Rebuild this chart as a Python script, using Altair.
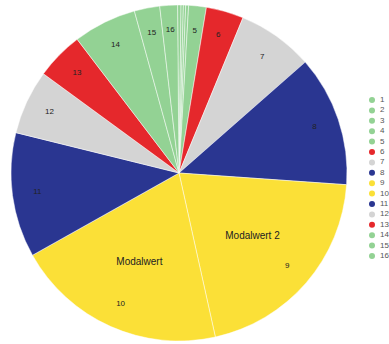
import math
import altair as alt
import pandas as pd

categories = [str(i) for i in range(1, 17)]
# slice sizes in degrees
values = [1.2, 0.8, 0.8, 1.0, 6.1, 13.0, 26.3, 45.3, 73.5, 73.2, 43.2, 22.3, 16.5, 21.9, 8.8, 6.1]
slice_labels = ["", "", "", "", "5", "6", "7", "8", "9", "10", "11", "12", "13", "14", "15", "16"]
annotations = ["", "", "", "", "", "", "", "", "Modalwert 2", "Modalwert", "", "", "", "", "", ""]
colors = ["#93d294", "#93d294", "#93d294", "#93d294", "#93d294", "#e5282c", "#d4d4d4", "#2a3691",
          "#fbe037", "#fbe037", "#2a3691", "#d4d4d4", "#e5282c", "#93d294", "#93d294", "#93d294"]

df = pd.DataFrame({
    "cat": categories,
    "val": values,
    "idx": list(range(len(categories))),
    "lab": slice_labels,
    "ann": annotations,
})

start = math.radians(-0.5)
theta = alt.Theta("val:Q", stack=True, scale=alt.Scale(range=[start, start + 2 * math.pi]))
cx, cy = 179, 173

base = alt.Chart(df).encode(
    theta=theta,
    order=alt.Order("idx:Q"),
    x=alt.value(cx),
    y=alt.value(cy),
)

pie = base.mark_arc(outerRadius=168, stroke="white", strokeWidth=0.8, strokeOpacity=0.6).encode(
    color=alt.Color(
        "cat:N",
        scale=alt.Scale(domain=categories, range=colors),
        sort=categories,
        legend=alt.Legend(
            title=None,
            orient="none",
            legendX=368,
            legendY=96,
            symbolType="circle",
            symbolSize=36,
            symbolStrokeWidth=0,
            labelFontSize=8,
            labelFont="Liberation Sans",
            labelColor="#555555",
            labelOffset=4,
            rowPadding=2.4,
            padding=0,
        ),
    )
)

labels = base.mark_text(radius=143, fontSize=8, font="Liberation Sans", color="#222222").encode(
    text="lab:N"
)

ann = base.mark_text(radius=97, fontSize=10, font="Liberation Sans", color="#222222").encode(
    text="ann:N"
)

chart = alt.layer(pie, labels, ann).properties(
    width=389, height=344, autosize=alt.AutoSizeParams(type="none"), padding=0
).configure_view(stroke=None)

chart.save("out.html", embed_options={"renderer": "svg", "actions": False})
